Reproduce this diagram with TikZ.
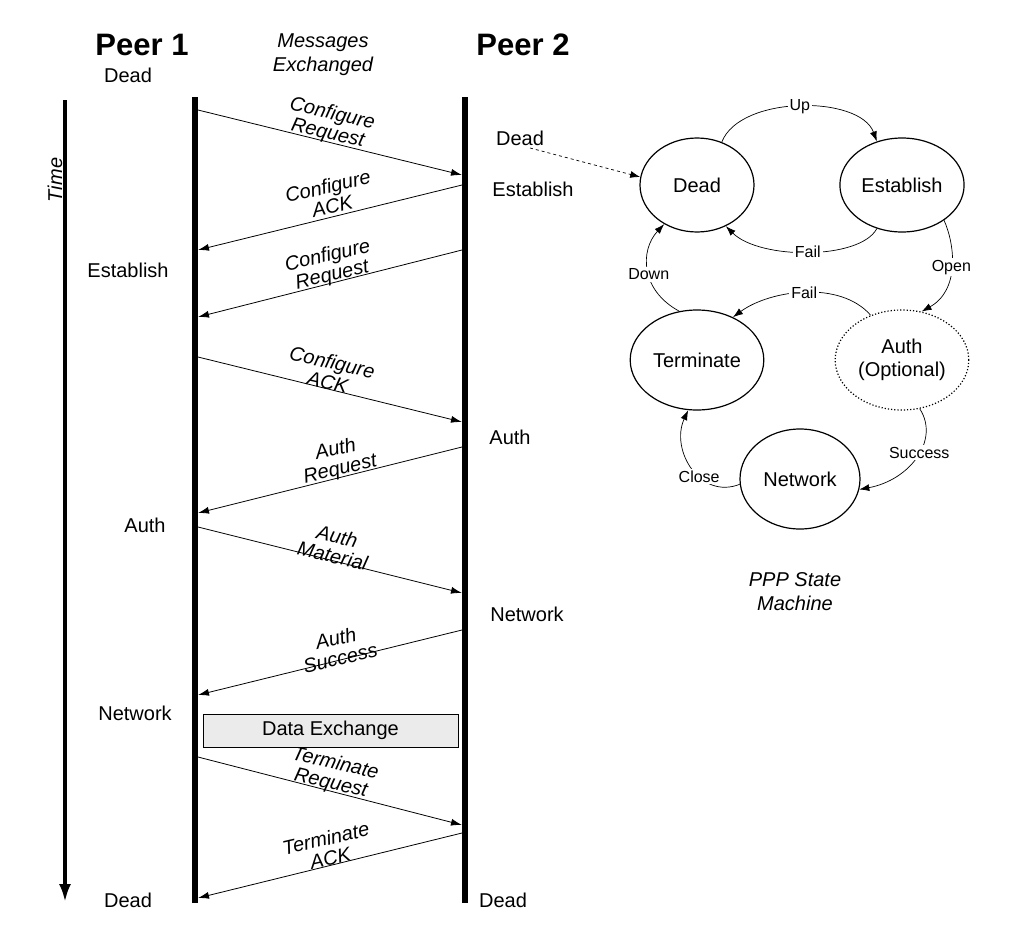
\documentclass[tikz,border=0pt]{standalone}
\usepackage{fontspec}
\setmainfont{Liberation Sans}
\usetikzlibrary{arrows.meta,shapes.geometric}
\begin{document}
\begin{tikzpicture}[x=1pt,y=-1pt,
  msg/.style={-{Latex[length=11pt,width=7pt]},line width=0.8pt},
  mlab/.style={font=\fontsize{20}{20}\selectfont\itshape,align=center,inner sep=1pt},
  st/.style={font=\fontsize{20}{20}\selectfont},
  ell/.style={draw,ellipse,line width=1.2pt,font=\fontsize{20}{23}\selectfont,align=center},
  tr/.style={-{Latex[length=10pt,width=7pt]},line width=0.7pt},
  tlab/.style={fill=white,font=\fontsize{16}{16}\selectfont,inner sep=2pt}]
\useasboundingbox (0,0) rectangle (1028,937);
\node[font=\fontsize{31}{32}\selectfont\bfseries] (p1) at (142,45) {Peer 1};
\node[font=\fontsize{31}{32}\selectfont\bfseries] (p2) at (523,45) {Peer 2};
\node[font=\fontsize{20}{24}\selectfont\itshape,align=center] (mx) at (323,55) {Messages\\Exchanged};
\coordinate (t0) at (65,100); \coordinate (t1) at (65,902);
\draw[line width=3.5pt,-{Latex[length=18pt,width=12pt]}] (t0) -- (t1);
\node[rotate=90,font=\fontsize{20}{20}\selectfont\itshape] (time) at (55,180) {Time};
\coordinate (a0) at (195,97); \coordinate (a1) at (195,903);
\coordinate (b0) at (465,97); \coordinate (b1) at (465,903);
\draw[line width=6pt] (a0)--(a1); \draw[line width=6pt] (b0)--(b1);
% messages
\foreach \n/\xa/\ya/\xb/\yb in {1/198/110/462/175, 2/462/185/198/250, 3/462/250/198/317, 4/198/357/462/422, 5/462/447/198/513, 6/198/527/462/593, 7/462/630/198/695, 8/198/757/462/825, 9/462/833/198/898}{
  \coordinate (s\n) at (\xa,\ya); \coordinate (e\n) at (\xb,\yb);
  \draw[msg] (s\n) -- (e\n);}
\node[mlab,rotate=-13] (m1) at (330,124) {Configure\\Request};
\node[mlab,rotate=13] (m2) at (330,196) {Configure\\ACK};
\node[mlab,rotate=13] (m3) at (330,266) {Configure\\Request};
\node[mlab,rotate=-13] (m4) at (330,372) {Configure\\ACK};
\node[mlab,rotate=13] (m5) at (338,460) {Auth\\Request};
\node[mlab,rotate=-13] (m6) at (335,546) {Auth\\Material};
\node[mlab,rotate=13] (m7) at (338,648) {Auth\\Success};
\node[mlab,rotate=-13] (m8) at (333,774) {Terminate\\Request};
\node[mlab,rotate=13] (m9) at (328,848) {Terminate\\ACK};
\node[draw,fill=black!8,minimum width=255pt,minimum height=33pt,font=\fontsize{20}{20}\selectfont] (dx) at (330.5,730.5) {Data Exchange};
% state labels
\node[st] (l1) at (128,75) {Dead};
\node[st] (l2) at (128,270) {Establish};
\node[st] (l3) at (145,525) {Auth};
\node[st] (l4) at (135,713) {Network};
\node[st] (l5) at (128,900) {Dead};
\node[st] (r1) at (520,138) {Dead};
\node[st] (r2) at (533,189) {Establish};
\node[st] (r3) at (510,437) {Auth};
\node[st] (r4) at (527,614) {Network};
\node[st] (r5) at (503,900) {Dead};
% state machine
\node[ell,minimum width=114pt,minimum height=94pt] (D) at (697,185) {Dead};
\node[ell,minimum width=120pt,minimum height=94pt] (E) at (902,185) {Establish};
\node[ell,minimum width=114pt,minimum height=100pt] (T) at (697,360) {Terminate};
\node[ell,dotted,minimum width=120pt,minimum height=100pt] (A) at (902,360) {Auth\\(Optional)};
\node[ell,minimum width=120pt,minimum height=100pt] (N) at (800,479) {Network};
\coordinate (ds) at (530,148);
\draw[tr,dashed] (ds) -- (D.172);
\draw[tr] (D.60) .. controls (740,95) and (860,95) .. node[tlab]{Up} (E.120);
\draw[tr] (E.-120) .. controls (860,260) and (760,260) .. node[tlab]{Fail} (D.-55);
\draw[tr] (E.-40) .. controls (955,245) and (960,290) .. node[tlab,pos=0.5]{Open} (A.68);
\draw[tr] (A.125) .. controls (840,280) and (770,290) .. node[tlab,pos=0.5]{Fail} (T.50);
\draw[tr] (A.-70) .. controls (940,440) and (910,480) .. node[tlab,pos=0.45]{Success} (N.-10);
\draw[tr] (N.185) .. controls (700,500) and (670,450) .. node[tlab,pos=0.4]{Close} (T.-100);
\draw[tr] (T.110) .. controls (640,290) and (640,250) .. node[tlab,pos=0.45]{Down} (D.-130);
\node[font=\fontsize{20}{24}\selectfont\itshape,align=center] (ppp) at (795,592) {PPP State\\Machine};
\end{tikzpicture}
\end{document}
